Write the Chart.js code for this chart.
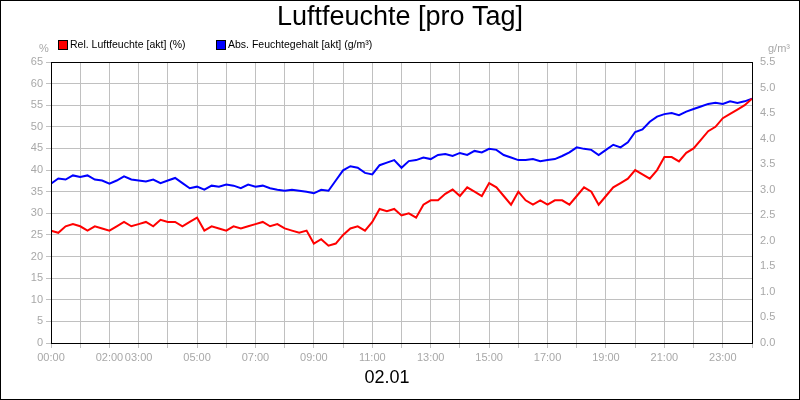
<!DOCTYPE html>
<html><head><meta charset="utf-8">
<script src="https://cdn.jsdelivr.net/npm/chart.js@4"></script>
<style>html,body{margin:0;padding:0;background:#fff}#w{width:800px;height:400px;box-sizing:border-box;border:1px solid #000}</style>
</head><body><div id="w"><canvas id="c" width="798" height="398"></canvas></div>
<script>
const hours = Array.from({length:97},(_,i)=>i*0.25);
const tickHours = [0,2,3,5,7,9,11,13,15,17,19,21,23];
const relHum = [26,25.5,27,27.5,27,26,27,26.5,26,
27,28,27,27.5,28,27,28.5,28,
28,27,28,29,26,27,26.5,26,
27,26.5,27,27.5,28,27,27.5,26.5,
26,25.5,26,23,24,22.5,23,25,
26.5,27,26,28,31,30.5,31,29.5,
30,29,32,33,33,34.5,35.5,34,
36,35,34,37,36,34,32,35,
33,32,33,32,33,33,32,34,
36,35,32,34,36,37,38,40,
39,38,40,43,43,42,44,45,
47,49,50,52,53,54,55,56.5];
const absHum = [3.12,3.22,3.2,3.28,3.25,3.28,3.2,3.18,3.12,
3.18,3.26,3.2,3.18,3.16,3.2,3.13,3.18,
3.23,3.13,3.03,3.06,3.0,3.08,3.06,3.1,
3.08,3.03,3.1,3.06,3.08,3.03,3.0,2.98,
3.0,2.98,2.96,2.93,3.0,2.98,3.18,3.38,
3.46,3.43,3.33,3.3,3.48,3.53,3.58,3.43,
3.56,3.58,3.63,3.6,3.68,3.7,3.66,3.72,
3.68,3.76,3.73,3.8,3.78,3.68,3.63,3.58,
3.58,3.6,3.56,3.58,3.6,3.66,3.73,3.83,
3.8,3.78,3.68,3.78,3.88,3.83,3.93,4.13,
4.18,4.33,4.43,4.48,4.5,4.46,4.53,4.58,
4.63,4.68,4.7,4.68,4.73,4.7,4.73,4.78];
const labels = ['Rel. Luftfeuchte [akt] (%)','Abs. Feuchtegehalt [akt] (g/m³)'];
const F='"Liberation Sans", Arial, sans-serif';
const grey='#a8a8a8';
const deco={id:'deco',afterDraw(ch){const c=ch.ctx,a=ch.chartArea;c.save();
c.fillStyle='#000';c.font='27px '+F;c.textAlign='center';c.textBaseline='top';c.fillText('Luftfeuchte [pro Tag]',399,3);
c.font='18px '+F;c.fillText('02.01',386,368);
c.font='10.5px '+F;c.textAlign='left';c.textBaseline='middle';
c.fillStyle='#f00';c.fillRect(58,40,8,8);c.strokeStyle='#000';c.lineWidth=1;c.strokeRect(57.5,39.5,9,9);
c.fillStyle='#000';c.fillText(labels[0],69,44);
c.fillStyle='#00f';c.fillRect(216,40,8,8);c.strokeRect(215.5,39.5,9,9);
c.fillStyle='#000';c.fillText(labels[1],227,44);
c.fillStyle=grey;c.font='11px '+F;c.fillText('%',38,48);c.textAlign='right';c.fillText('g/m³',789,48);
c.strokeStyle='#000';c.strokeRect(Math.round(a.left)+0.5,Math.round(a.top)+0.5,Math.round(a.width),Math.round(a.height));
c.restore();}};
new Chart(document.getElementById('c'),{type:'line',
data:{datasets:[
{label:labels[0],data:hours.map((h,i)=>({x:h,y:relHum[i]})),borderColor:'#f00',borderWidth:2,pointRadius:0,yAxisID:'y',tension:0},
{label:labels[1],data:hours.map((h,i)=>({x:h,y:absHum[i]})),borderColor:'#00f',borderWidth:2,pointRadius:0,yAxisID:'y1',tension:0}]},
options:{responsive:false,animation:false,layout:{padding:{top:61,left:0,right:0,bottom:0}},
plugins:{legend:{display:false},title:{display:false},tooltip:{enabled:false}},
scales:{
x:{type:'linear',min:0,max:24,afterFit(s){s.height=56},afterBuildTicks(s){s.ticks=Array.from({length:25},(_,i)=>({value:i}))},
grid:{color:'#c0c0c0',tickLength:5},border:{color:'#000'},
ticks:{autoSkip:false,maxRotation:0,color:grey,font:{family:F,size:11},callback:v=>tickHours.includes(v)?String(v).padStart(2,'0')+':00':''}},
y:{position:'left',min:0,max:65,afterFit(s){s.width=50},grid:{color:'#c0c0c0',tickLength:5},border:{color:'#000'},
ticks:{stepSize:5,color:grey,font:{family:F,size:11}}},
y1:{position:'right',min:0,max:5.5,afterFit(s){s.width=47},grid:{display:false,tickLength:5},border:{color:'#000'},
ticks:{stepSize:0.5,color:grey,font:{family:F,size:11},callback:v=>v.toFixed(1)}}}},
plugins:[deco]});
</script></body></html>
